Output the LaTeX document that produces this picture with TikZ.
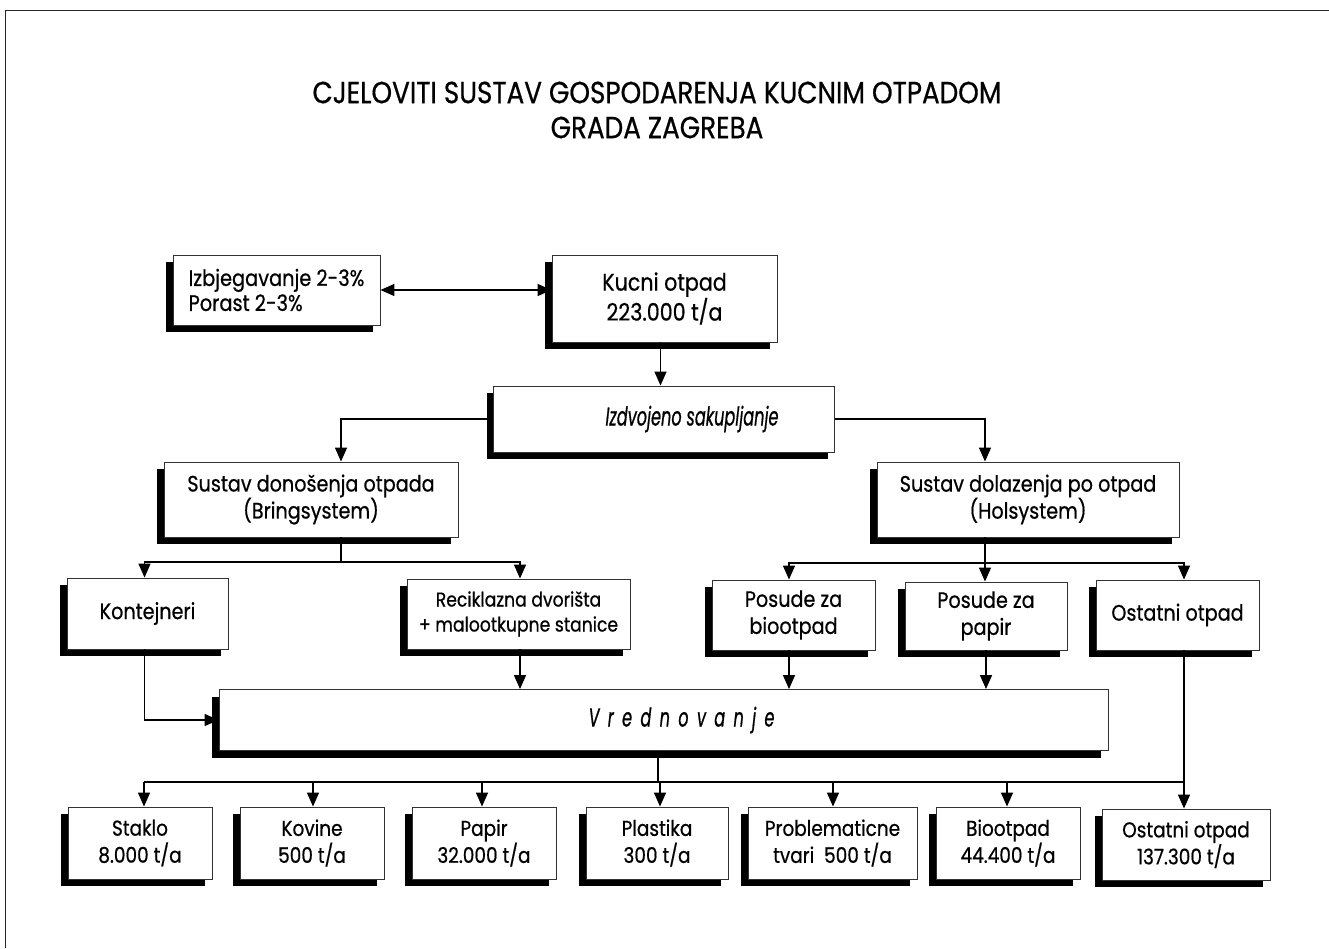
\documentclass[tikz,border=0pt]{standalone}
\usepackage{fontspec}
\setmainfont{Poppins}[FakeStretch=0.86, FakeBold=0.6]
\newfontfamily\condit{Poppins}[FakeStretch=0.62, FakeBold=0.6]
\usetikzlibrary{arrows.meta,shadows}
\tikzset{
  box/.style={draw=black!80, line width=0.9pt, fill=white, align=center, inner sep=0pt,
    drop shadow={shadow xshift=-7pt, shadow yshift=-7pt, fill=black, opacity=1},
    font=\fontsize{22.3}{27}\selectfont},
  bigtext/.style={font=\fontsize{24}{30}\selectfont},
  lowtext/.style={font=\fontsize{21.5}{27}\selectfont},
  smalltext/.style={font=\fontsize{20}{25}\selectfont},
  itbox/.style={font=\fontsize{26}{30}\selectfont\condit\itshape},
  arr/.style={line width=1.4pt, -{Triangle[length=14pt,width=12pt]}},
  dbl/.style={line width=1.4pt, {Triangle[length=14pt,width=12pt]}-{Triangle[length=14pt,width=12pt]}},
  ln/.style={line width=1.4pt},
  frame/.style={line width=1pt, draw=black!85}
}
\begin{document}
\begin{tikzpicture}[x=1pt,y=-1pt]
\useasboundingbox (0,0) rectangle (1329,948);
\draw[frame] (5,948) -- (5,10) -- (1329,10);
\node[align=center, font=\fontsize{30.5}{35}\selectfont] (title) at (657,110)
  {CJELOVITI SUSTAV GOSPODARENJA KUCNIM OTPADOM\\GRADA ZAGREBA};
% row 1
\node[box, minimum width=207pt, minimum height=70pt, align=left, font=\fontsize{22.5}{25}\selectfont] (izb) at (276.5,290)
  {Izbjegavanje 2-3\%\\Porast 2-3\%\hspace*{8pt}};
\node[box, bigtext, minimum width=225pt, minimum height=87pt] (kuc) at (664.5,298.5)
  {Kucni otpad\\223.000 t/a};
\node[box, itbox, minimum width=341pt, minimum height=66pt] (izd) at (664,419)
  {\hspace*{56pt}Izdvojeno sakupljanje};
% row 2
\node[box, minimum width=294pt, minimum height=75pt] (don) at (311,499.5)
  {Sustav donošenja otpada\\(Bringsystem)};
\node[box, minimum width=302pt, minimum height=75pt] (dol) at (1028,499.5)
  {Sustav dolazenja po otpad\\(Holsystem)};
% row 3
\node[box, minimum width=161pt, minimum height=71pt] (kon) at (147.5,613.5) {Kontejneri};
\node[box, smalltext, minimum width=223pt, minimum height=70pt] (rec) at (518.5,614)
  {Reciklazna dvorišta\\+ malootkupne stanice};
\node[box, minimum width=163pt, minimum height=70pt] (pbi) at (793.5,615) {Posude za\\biootpad};
\node[box, minimum width=162pt, minimum height=68pt] (ppa) at (986,616) {Posude za\\papir};
\node[box, minimum width=163pt, minimum height=70pt] (ost) at (1177.5,615) {Ostatni otpad};
% row 4
\node[box, itbox, minimum width=889pt, minimum height=61pt] (vre) at (663.5,720)
  {\hspace*{36pt}\addfontfeature{LetterSpace=32}Vrednovanje};
% row 5
\node[box, lowtext, minimum width=144pt, minimum height=72pt] (sta) at (140,843) {Staklo\\8.000 t/a};
\node[box, lowtext, minimum width=144pt, minimum height=72pt] (kov) at (312,843) {Kovine\\500 t/a};
\node[box, lowtext, minimum width=144pt, minimum height=72pt] (pap) at (484,843) {Papir\\32.000 t/a};
\node[box, lowtext, minimum width=142pt, minimum height=72pt] (pla) at (657,843) {Plastika\\300 t/a};
\node[box, lowtext, minimum width=169pt, minimum height=72pt] (pro) at (832.5,843) {Problematicne\\tvari\ \ 500 t/a};
\node[box, lowtext, minimum width=144pt, minimum height=72pt] (bio) at (1008,843) {Biootpad\\44.400 t/a};
\node[box, lowtext, minimum width=168pt, minimum height=71pt] (oat) at (1186,844.5) {Ostatni otpad\\137.300 t/a};
% connectors
\draw[dbl] (izb.east) -- (izb.east -| kuc.west);
\draw[arr] ([xshift=-4pt]kuc.south) -- ([xshift=-4pt]kuc.south |- izd.north);
\draw[arr] (izd.west) -| ([xshift=30pt]don.north);
\draw[arr] (izd.east) -| ([xshift=-43pt]dol.north);
\coordinate (bj) at ([xshift=30pt]don.south |- 0,562);
\draw[ln] ([xshift=30pt]don.south) -- (bj);
\draw[arr] (bj) -| ([xshift=-3pt]kon.north);
\draw[arr] (bj) -| ([xshift=1.5pt]rec.north);
\coordinate (hj) at ([xshift=-43pt]dol.south |- 0,563);
\draw[ln] ([xshift=-43pt]dol.south) -- (hj);
\draw[arr] (hj) -| ([xshift=-4.5pt]pbi.north);
\draw[arr] (hj) -- (hj |- ppa.north);
\draw[arr] (hj) -| ([xshift=6.5pt]ost.north);
\draw[arr] ([xshift=-3pt]kon.south) |- (vre.west);
\draw[arr] ([xshift=1.5pt]rec.south) -- ([xshift=1.5pt]rec.south |- vre.north);
\draw[arr] ([xshift=-4.5pt]pbi.south) -- ([xshift=-4.5pt]pbi.south |- vre.north);
\draw[arr] (ppa.south) -- (ppa.south |- vre.north);
\draw[arr] ([xshift=6.5pt]ost.south) -- ([xshift=6.5pt]ost.south |- oat.north);
\coordinate (vj) at ([xshift=-5.5pt]vre.south |- 0,782);
\draw[ln] ([xshift=-5.5pt]vre.south) -- (vj);
\draw[ln] ([xshift=4pt]sta.north |- vj) -- ([xshift=6.5pt]ost.south |- vj);
\draw[arr] ([xshift=4pt]sta.north |- vj) -- ([xshift=4pt]sta.north);
\draw[arr] ([xshift=1pt]kov.north |- vj) -- ([xshift=1pt]kov.north);
\draw[arr] ([xshift=-2pt]pap.north |- vj) -- ([xshift=-2pt]pap.north);
\draw[arr] ([xshift=3pt]pla.north |- vj) -- ([xshift=3pt]pla.north);
\draw[arr] ([xshift=0.5pt]pro.north |- vj) -- ([xshift=0.5pt]pro.north);
\draw[arr] ([xshift=-1pt]bio.north |- vj) -- ([xshift=-1pt]bio.north);
\end{tikzpicture}
\end{document}
